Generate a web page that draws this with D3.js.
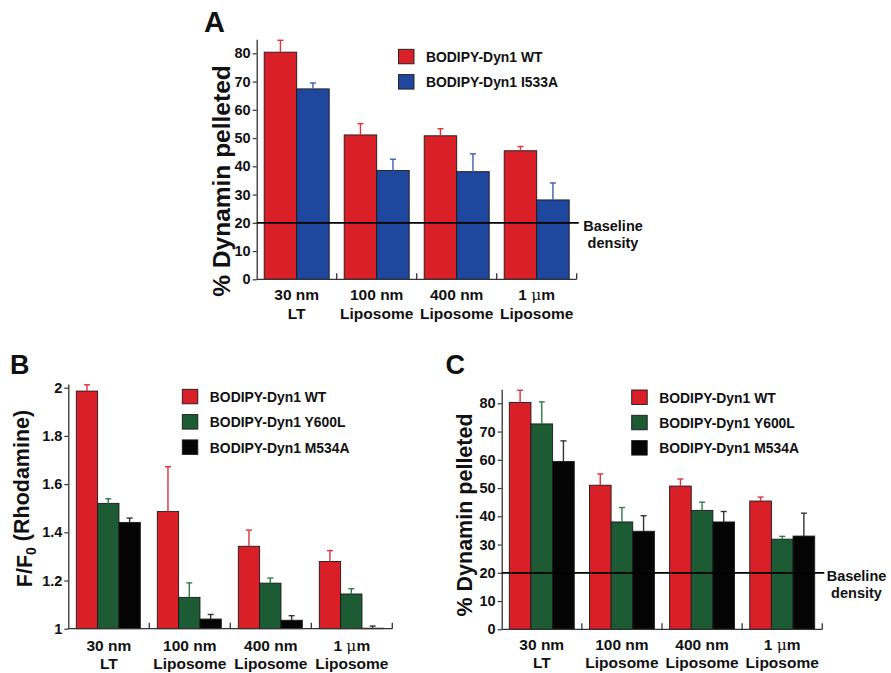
<!DOCTYPE html>
<html>
<head>
<meta charset="utf-8">
<script src="https://cdn.jsdelivr.net/npm/d3@7"></script>
<style>
  html, body { margin: 0; padding: 0; background: #fff; }
  svg { display: block; font-family: "Liberation Sans", Arial, sans-serif; font-weight: bold; }
</style>
</head>
<body>
<svg id="chart" width="891" height="673"></svg>
<script>
// categories (two-line labels)
var categories = ["30nm", "100nm", "400nm", "1um"],
    labelTop = ["30 nm", "100 nm", "400 nm", "1 \u03bcm"],
    labelBottom = ["LT", "Liposome", "Liposome", "Liposome"];

// panel A: % dynamin pelleted
var aWT = [80.4, 51.1, 50.8, 45.5],
    aWTErr = [4.2, 4.0, 2.5, 1.5],
    aI533A = [67.4, 38.5, 38.1, 28.1],
    aI533AErr = [2.1, 4.0, 6.3, 6.0];

// panel B: F/F0 (rhodamine)
var bWT = [1.986, 1.486, 1.342, 1.279],
    bWTErr = [0.026, 0.186, 0.067, 0.045],
    bY600L = [1.520, 1.130, 1.189, 1.144],
    bY600LErr = [0.019, 0.060, 0.021, 0.022],
    bM534A = [1.441, 1.040, 1.035, 1.002],
    bM534AErr = [0.018, 0.019, 0.019, 0.009];

// panel C: % dynamin pelleted
var cWT = [80.3, 51.0, 50.7, 45.4],
    cWTErr = [4.3, 4.0, 2.5, 1.4],
    cY600L = [72.7, 38.0, 42.1, 31.9],
    cY600LErr = [7.8, 5.1, 2.9, 1.0],
    cM534A = [59.4, 34.7, 38.0, 33.0],
    cM534AErr = [7.3, 5.5, 3.7, 8.1];

var pelletTicks = [0, 10, 20, 30, 40, 50, 60, 70, 80],
    ratioTicks = [1, 1.2, 1.4, 1.6, 1.8, 2],
    baselineDensity = 20;

var RED = "#d91f27", BLUE = "#1f479d", GREEN = "#1c5b33", BLACK = "#050505";

var svg = d3.select("#chart");

function drawPanel(p) {
    var g = svg.append("g");
    var y = d3.scaleLinear()
        .domain([p.yMin, p.yTop])
        .range([p.y0, p.y0 - (p.yTop - p.yMin) * p.pxPerUnit]);
    var x = d3.scaleBand()
        .domain(categories)
        .range([p.x0, p.x0 + p.width])
        .padding(0);
    var inner = d3.scaleBand()
        .domain(d3.range(p.series.length))
        .range([p.groupPad, x.step() - p.groupPad + p.groupShift])
        .padding(0);

    // bars
    p.series.forEach(function (s, si) {
        g.append("g").selectAll("rect")
            .data(s.values)
            .join("rect")
            .attr("x", function (d, i) { return x(categories[i]) + inner(si); })
            .attr("y", function (d) { return y(d); })
            .attr("width", inner.bandwidth())
            .attr("height", function (d) { return y(p.yMin) - y(d); })
            .attr("fill", s.color)
            .attr("stroke", "#1a1a1a")
            .attr("stroke-width", 0.9);
    });

    // error bars (upper only)
    p.series.forEach(function (s, si) {
        var eg = g.append("g").attr("stroke", s.errColor).attr("stroke-width", 1.4);
        s.values.forEach(function (v, i) {
            var cx = x(categories[i]) + inner(si) + inner.bandwidth() / 2;
            eg.append("line")
                .attr("x1", cx).attr("x2", cx)
                .attr("y1", y(v)).attr("y2", y(v + s.err[i]));
            eg.append("line")
                .attr("x1", cx - 3).attr("x2", cx + 3)
                .attr("y1", y(v + s.err[i])).attr("y2", y(v + s.err[i]));
        });
    });

    // y axis
    var yAxis = d3.axisLeft(y)
        .tickValues(p.ticks)
        .tickFormat(p.tickFormat)
        .tickSize(4)
        .tickSizeOuter(0)
        .tickPadding(2);
    var ya = g.append("g")
        .attr("transform", "translate(" + p.x0 + ",0)")
        .call(yAxis);
    ya.select(".domain").attr("stroke", "#333").attr("stroke-width", 1.3);
    ya.selectAll(".tick line").attr("stroke", "#333").attr("stroke-width", 1.2);
    ya.selectAll(".tick text")
        .attr("font-size", "14.5px")
        .attr("font-weight", "bold")
        .attr("font-family", "Liberation Sans, Arial, sans-serif")
        .attr("fill", "#111");

    // x axis: line with short up ticks at category boundaries
    var xa = g.append("g").attr("stroke", "#333").attr("stroke-width", 1.3);
    xa.append("line")
        .attr("x1", p.x0).attr("x2", p.x0 + p.width)
        .attr("y1", y(p.yMin)).attr("y2", y(p.yMin));
    xa.selectAll("line.tk")
        .data(categories)
        .join("line")
        .attr("class", "tk")
        .attr("x1", function (c) { return x(c) + x.step(); })
        .attr("x2", function (c) { return x(c) + x.step(); })
        .attr("y1", y(p.yMin)).attr("y2", y(p.yMin) - 6);

    // category labels
    var lab = g.append("g")
        .attr("font-size", "15.5px")
        .attr("text-anchor", "middle")
        .attr("fill", "#111");
    categories.forEach(function (c, i) {
        var cx = x(c) + x.step() / 2;
        var t1 = lab.append("text").attr("x", cx).attr("y", y(p.yMin) + p.labelDy1);
        if (labelTop[i].indexOf("\u03bc") >= 0) {
            t1.append("tspan").text("1 ");
            t1.append("tspan").attr("font-weight", "normal").attr("font-family", "DejaVu Serif, serif").text("\u03bc");
            t1.append("tspan").text("m");
        } else {
            t1.text(labelTop[i]);
        }
        lab.append("text").attr("x", cx).attr("y", y(p.yMin) + p.labelDy2).text(labelBottom[i]);
    });

    // baseline density line
    if (p.baseline) {
        g.append("line")
            .attr("x1", p.x0).attr("x2", p.x0 + p.width + 2)
            .attr("y1", y(baselineDensity)).attr("y2", y(baselineDensity))
            .attr("stroke", "#000").attr("stroke-width", 1.8);
        var bt = g.append("g").attr("font-size", "14.5px").attr("text-anchor", "middle").attr("fill", "#111");
        bt.append("text").attr("x", p.baselineX).attr("y", y(baselineDensity) + 8).text("Baseline");
        bt.append("text").attr("x", p.baselineX).attr("y", y(baselineDensity) + 25.5).text("density");
    }

    // y axis title
    var yt = g.append("text")
        .attr("transform", "translate(" + p.titleX + "," + p.titleY + ") rotate(-90)")
        .attr("text-anchor", "middle")
        .attr("font-size", p.titleSize)
        .attr("fill", "#111");
    if (p.titleSub) {
        yt.append("tspan").text("F/F");
        yt.append("tspan").attr("font-size", "0.65em").attr("dy", "0.3em").text("0");
        yt.append("tspan").attr("dy", "-0.3em").text(" (Rhodamine)");
    } else {
        yt.text(p.title);
    }

    // panel letter
    g.append("text")
        .attr("x", p.letterX).attr("y", p.letterY)
        .attr("font-size", p.letterSize)
        .attr("fill", "#111")
        .text(p.letter);

    // legend
    var lg = g.append("g").attr("transform", "translate(" + p.legendX + "," + p.legendY + ")");
    p.series.forEach(function (s, si) {
        var row = lg.append("g").attr("transform", "translate(0," + si * 25.3 + ")");
        row.append("rect")
            .attr("width", 15.5).attr("height", 14.5)
            .attr("fill", s.color)
            .attr("stroke", "#1a1a1a").attr("stroke-width", 0.9);
        row.append("text")
            .attr("x", 27.5).attr("y", 12.6)
            .attr("font-size", "13.9px")
            .attr("fill", "#111")
            .text(s.name);
    });
}

var pctFormat = function (d) { return d3.format("d")(d); };
var ratioFormat = function (d) { return d === 1 || d === 2 ? String(d) : d3.format(".1f")(d); };

drawPanel({
    letter: "A", letterX: 204, letterY: 31.5, letterSize: "29px",
    x0: 256.7, width: 320, groupPad: 7.5, groupShift: 0,
    y0: 279.3, yMin: 0, yTop: 85, pxPerUnit: 2.825,
    ticks: pelletTicks, tickFormat: pctFormat,
    labelDy1: 20.7, labelDy2: 39.2,
    baseline: true, baselineX: 613,
    title: "% Dynamin pelleted", titleX: 229.5, titleY: 181, titleSize: "24.5px",
    legendX: 398.5, legendY: 49.3,
    series: [
        { name: "BODIPY-Dyn1 WT", values: aWT, err: aWTErr, color: RED, errColor: "#e0303a" },
        { name: "BODIPY-Dyn1 I533A", values: aI533A, err: aI533AErr, color: BLUE, errColor: "#3c5db0" }
    ]
});

drawPanel({
    letter: "B", letterX: 10, letterY: 374, letterSize: "27px",
    x0: 68.3, width: 324, groupPad: 8, groupShift: -1,
    y0: 628.7, yMin: 1, yTop: 2.015, pxPerUnit: 241,
    ticks: ratioTicks, tickFormat: ratioFormat,
    labelDy1: 22.5, labelDy2: 40.5,
    baseline: false,
    titleSub: true, titleX: 31.5, titleY: 498.5, titleSize: "21.5px",
    legendX: 182.3, legendY: 389.3,
    series: [
        { name: "BODIPY-Dyn1 WT", values: bWT, err: bWTErr, color: RED, errColor: "#e0303a" },
        { name: "BODIPY-Dyn1 Y600L", values: bY600L, err: bY600LErr, color: GREEN, errColor: "#2e7a48" },
        { name: "BODIPY-Dyn1 M534A", values: bM534A, err: bM534AErr, color: BLACK, errColor: "#333" }
    ]
});

drawPanel({
    letter: "C", letterX: 445.5, letterY: 373.5, letterSize: "27px",
    x0: 501.7, width: 320.6, groupPad: 7.6, groupShift: 0,
    y0: 629.3, yMin: 0, yTop: 85, pxPerUnit: 2.825,
    ticks: pelletTicks, tickFormat: pctFormat,
    labelDy1: 20.7, labelDy2: 39,
    baseline: true, baselineX: 856.5,
    title: "% Dynamin pelleted", titleX: 471.5, titleY: 515, titleSize: "21.5px",
    legendX: 631.7, legendY: 390,
    series: [
        { name: "BODIPY-Dyn1 WT", values: cWT, err: cWTErr, color: RED, errColor: "#e0303a" },
        { name: "BODIPY-Dyn1 Y600L", values: cY600L, err: cY600LErr, color: GREEN, errColor: "#2e7a48" },
        { name: "BODIPY-Dyn1 M534A", values: cM534A, err: cM534AErr, color: BLACK, errColor: "#333" }
    ]
});
</script>
</body>
</html>
